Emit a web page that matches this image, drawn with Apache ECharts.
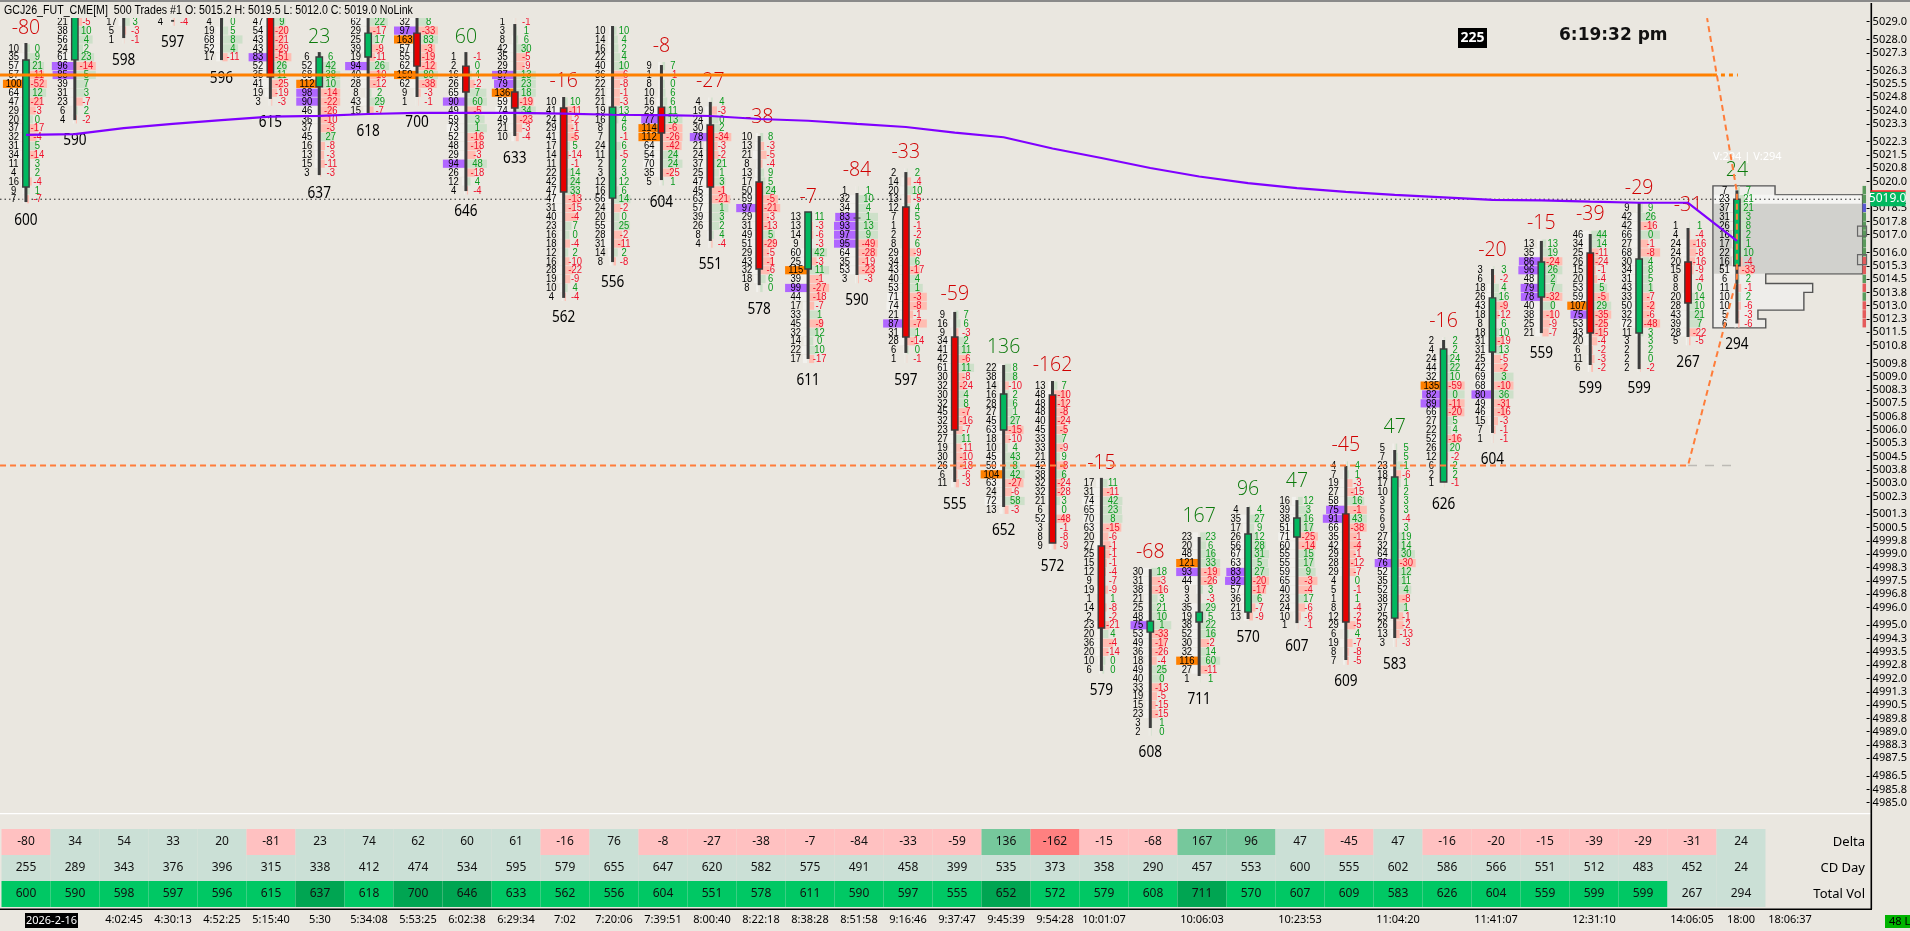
<!DOCTYPE html>
<html>
<head>
<meta charset="utf-8">
<title>GCJ26 footprint</title>
<script src="https://cdn.jsdelivr.net/npm/echarts@6/dist/echarts.min.js"></script>
<style>
html, body { margin: 0; padding: 0; background: #eae7e0; }
#chart { width: 1910px; height: 931px; }
</style>
</head>
<body>
<div id="chart"></div>
<script>
// price of the first footprint row of each bar, rows go down in steps of 0.5
var topPrices = [5027.5,5029,5029,5029,5029,5029,5027,5029,5029,5027,5029,5024.5,5028.5,5026.5,5024.5,5022.5,5018,5019.5,5020.5,5012.5,5009.5,5008.5,5003,4998,5000,5001.5,5002,5004,5005,5011,5015,5016.5,5017,5018.5,5017.5,5019.5];

var volumes = [
    [10,35,57,57,100,64,47,29,20,37,32,31,34,11,4,16,9,7],
    [21,38,56,24,61,96,85,39,31,23,6,4],
    [17,5,1],
    [4],
    [4,19,68,52,17],
    [47,54,43,43,83,52,35,41,19,3],
    [6,52,68,112,98,90,46,36,37,45,16,13,15,3],
    [62,29,25,39,19,94,40,28,8,43,15],
    [32,97,163,57,55,62,150,62,9,1],
    [1,2,16,26,65,90,49,59,73,52,48,29,94,26,12,4],
    [1,3,8,42,35,29,87,79,136,59,74,49,21,10],
    [10,41,24,29,41,17,14,11,22,42,47,47,31,40,23,16,18,12,16,28,19,10,4],
    [10,14,16,22,40,36,22,21,21,19,16,8,7,24,11,2,3,12,16,56,24,20,55,28,31,14,8],
    [9,1,8,10,16,29,77,114,112,64,54,70,35,5],
    [4,19,24,30,78,21,24,37,25,47,45,63,57,39,26,8,4],
    [10,13,21,8,13,17,50,59,97,29,31,49,51,29,43,32,18,8],
    [13,13,14,9,60,25,115,39,99,44,17,33,45,32,14,22,17],
    [1,32,34,83,93,97,95,64,35,53,3],
    [2,14,20,13,12,7,1,2,8,29,34,43,40,53,71,74,21,87,31,28,6,1],
    [9,16,9,34,41,42,61,30,32,30,32,45,32,23,27,19,30,26,6,11],
    [22,38,14,16,28,27,45,63,18,10,45,50,104,63,24,72,13],
    [13,48,48,48,40,45,33,33,21,42,38,32,32,21,6,52,3,8,9],
    [17,31,74,65,70,63,20,27,25,15,12,9,19,1,14,2,23,20,36,20,10,6],
    [30,31,38,21,25,48,75,53,49,36,18,49,40,33,19,15,23,3,2],
    [23,20,48,121,93,44,9,3,35,19,38,52,30,32,116,27,1],
    [4,35,17,26,56,67,63,83,92,57,36,21,13],
    [16,39,38,51,71,60,55,55,59,65,40,23,24,10,1],
    [4,7,19,27,58,75,91,66,35,42,29,28,29,4,5,1,8,12,29,6,19,8,7],
    [5,7,23,18,17,10,3,5,6,9,27,32,64,76,52,35,52,38,37,25,26,13,3],
    [2,4,24,44,32,135,82,89,66,27,22,52,26,12,6,2,1],
    [3,6,18,26,43,18,8,18,31,31,25,42,69,68,80,49,46,15,7,1],
    [13,35,86,96,48,79,78,40,38,25,21],
    [46,34,25,26,15,20,53,59,107,75,53,43,20,6,11,6],
    [9,42,42,66,27,68,30,34,31,43,33,50,32,72,11,3,2,2,2],
    [1,4,24,24,20,15,8,8,20,28,43,39,28,5],
    [7,23,37,31,26,16,17,22,16,51,6,11,10,10,5,6]
];

var rowDeltas = [
    [0,9,21,-11,-52,12,-21,-3,0,-17,-4,5,-14,3,2,-4,1,-7],
    [-5,10,4,2,23,-14,5,7,3,-7,2,-2],
    [3,-3,-1],
    [-4],
    [0,5,8,4,-11],
    [9,-20,-21,-29,-51,26,11,-25,-19,-3],
    [6,42,38,10,-14,-22,-26,-10,-3,27,-8,-3,-11,-3],
    [22,-17,17,-9,-11,26,-10,-12,2,29,-7],
    [8,-33,83,-3,-19,-12,80,-38,-3,-1],
    [-1,0,4,-2,7,60,-5,3,1,-16,-18,-3,48,-18,4,-4],
    [-1,1,6,30,-5,-9,13,23,18,-19,34,-23,-3,-4],
    [10,-11,-2,-1,-5,5,-14,-1,14,24,33,-13,-15,-4,7,0,-4,2,-10,-22,-9,4,-4],
    [10,4,2,4,10,-6,-8,-1,-3,13,4,6,-1,6,-5,2,3,12,6,14,-2,0,25,-2,-11,2,-8],
    [7,-1,0,6,6,11,13,-6,-26,-42,24,24,-25,1],
    [4,-3,0,2,-34,-3,-2,21,1,3,-1,-21,1,3,2,4,-4],
    [8,-3,-5,-4,9,5,24,-5,-21,-3,-13,5,-29,-5,-1,-6,6,0],
    [11,-3,-6,-3,42,-3,11,-1,-27,-18,-7,1,-9,12,0,10,-17],
    [1,10,4,1,13,9,-49,-28,-19,-23,-3],
    [2,-4,10,-5,4,5,-1,-2,6,-9,6,-17,4,1,-3,-8,-1,-7,1,-14,0,-1],
    [7,6,-3,2,11,-6,11,-8,-24,4,8,-7,-16,-7,11,-11,-10,-18,-6,-3],
    [8,8,-10,2,6,1,27,-15,-10,4,43,8,42,-27,-6,58,-3],
    [7,-10,-12,-8,-24,-5,7,-9,9,-8,6,-24,-28,3,0,-48,-1,-8,-9],
    [11,-11,42,23,8,-15,-6,-1,-1,-1,-4,-7,-9,1,-8,-2,-21,4,-4,-14,0,0],
    [18,-3,-16,3,21,10,1,-33,-17,-26,-4,25,0,-13,-5,-15,-15,1,0],
    [23,6,16,33,-19,-26,3,-3,29,5,22,16,-2,14,60,-11,1],
    [4,27,9,12,28,31,5,27,-20,-17,6,-7,-9],
    [12,3,16,17,-25,-14,15,17,9,-3,-4,17,-6,-6,-1],
    [4,1,-3,-15,16,-1,43,-38,-1,-4,-1,-12,-7,0,-1,1,-4,-2,-5,4,-7,-8,-5],
    [5,5,1,-6,1,2,3,3,-4,3,19,14,30,-30,12,11,4,-8,1,-1,-2,-13,-3],
    [2,2,24,22,10,-59,0,-11,-20,5,4,-16,20,-2,2,2,-1],
    [3,-2,4,16,-9,-12,6,10,-19,13,-5,-2,3,-10,36,-31,-16,-3,-1,-1],
    [13,19,-24,26,2,7,-32,0,-10,-9,-7],
    [44,14,-11,-24,-1,-4,5,-5,29,-35,-25,-15,-4,-2,-3,-2],
    [9,26,-16,0,-1,-8,4,8,5,1,-7,-2,-6,-48,3,3,2,0,-2],
    [1,-4,-16,-8,-16,-9,-4,0,14,10,21,7,-22,-5],
    [7,21,21,3,8,2,1,10,-4,-33,2,-1,2,-6,-3,-6]
];

// candles, null where the body is above the visible part
var opens  = [5019.69,5026.85,null,null,null,5030,5025.34,5027.01,5028.36,5026.5,5025.04,5024.14,5019.06,5024.19,5023.18,5019.97,5015.07,5017.94,5018.56,5011.24,5006,5007.97,4999.46,4994.61,4995.18,4995.74,4999.97,5001.27,4995.4,5003.07,5010.39,5013.49,5015.97,5011.46,5015.46,5015.25];
var closes = [5026.84,5030,null,null,null,5025.88,5027.01,5028.36,5026.5,5025.04,5024.14,5019.41,5024.19,5022.73,5019.69,5015.07,5018.28,5017.94,5011.24,5006,5008.03,4999.63,4994.84,4995.23,4995.74,5000.14,5001.04,4995.18,5003.35,5010.56,5013.44,5015.46,5011.46,5015.63,5013.15,5019];
var highs  = [5027.8,5030,5030,5029.1,5030,5030,5027.29,5030,5030,5027.29,5028.87,5024.76,5028.76,5026.56,5024.48,5022.56,5018.28,5019.35,5020.53,5012.65,5009.66,5008.76,5003.3,4998.16,4999.97,5001.66,5002.05,5003.97,5004.87,5011.07,5015.07,5016.65,5017.04,5018.79,5017.38,5019.5];
var lows   = [5018.84,5023.46,5028.08,5029,5026.84,5024.65,5020.36,5023.86,5024.76,5019.46,5022.56,5013.44,5015.46,5020.08,5016.65,5014.16,5010,5014.73,5010.34,5003.07,5001.66,4999.63,4992.42,4989.21,4992.14,4995.35,4995.12,4993.04,4994.28,5003.07,5005.83,5011.46,5009.66,5009.43,5011.24,5012];

// table rows, also the numbers over and under the bars
var deltaRow = [-80,34,54,33,20,-81,23,74,62,60,61,-16,76,-8,-27,-38,-7,-84,-33,-59,136,-162,-15,-68,167,96,47,-45,47,-16,-20,-15,-39,-29,-31,24];
var cdDayRow = [255,289,343,376,396,315,338,412,474,534,595,579,655,647,620,582,575,491,458,399,535,373,358,290,457,553,600,555,602,586,566,551,512,483,452,24];
var totalVolRow = [600,590,598,597,596,615,637,618,700,646,633,562,556,604,551,578,611,590,597,555,652,572,579,608,711,570,607,609,583,626,604,559,599,599,267,294];
var tableRows = ['Delta', 'CD Day', 'Total Vol'];

// purple average line, one price per bar
var vwap = [5022.62,5022.67,5023.01,5023.24,5023.46,5023.65,5023.7,5023.8,5023.86,5023.86,5023.87,5023.82,5023.76,5023.74,5023.69,5023.52,5023.42,5023.24,5023.07,5022.75,5022.49,5021.86,5021.32,5020.76,5020.28,5019.91,5019.63,5019.41,5019.24,5019.1,5018.96,5018.93,5018.86,5018.8,5018.8,5016.65];

var orangeLevel = 5026;
var lastPrice = 5019;
var swingX = [-0.53,34,35,35,34.39];
var swingPrice = [5004,5004,5014.56,5019.4,5029.2];

// profile of the running bar, [bar position, price] around its outline
var profileX = [34.51,35.78,35.78,37.57,37.57,35.59,35.59,36.55,36.55,36.37,36.37,35.43,35.43,35.59,35.59,34.51];
var profileP = [5019.75,5019.75,5019.25,5019.25,5014.8,5014.8,5014.25,5014.25,5013.75,5013.75,5012.75,5012.75,5012.25,5012.25,5011.75,5011.75];

var timeBars = [2,3,4,5,6,7,8,9,10,11,12,13,14,15,16,17,18,19,20,21,22,24,26,28,30,32,34,35,36];
var timeLabels = ['4:02:45','4:30:13','4:52:25','5:15:40','5:30','5:34:08','5:53:25','6:02:38','6:29:34','7:02','7:20:06','7:39:51','8:00:40','8:22:18','8:38:28','8:51:58','9:16:46','9:37:47','9:45:39','9:54:28','10:01:07','10:06:03','10:23:53','11:04:20','11:41:07','12:31:10','14:06:05','18:00','18:06:37'];

var priceTicks = [5029,5028,5027.25,5026.25,5025.5,5024.75,5024,5023.25,5022.25,5021.5,5020.75,5020,5018.5,5017.75,5017,5016,5015.25,5014.5,5013.75,5013,5012.25,5011.5,5010.75,5009.75,5009,5008.25,5007.5,5006.75,5006,5005.25,5004.5,5003.75,5003,5002.25,5001.25,5000.5,4999.75,4999,4998.25,4997.5,4996.75,4996,4995,4994.25,4993.5,4992.75,4992,4991.25,4990.5,4989.75,4989,4988.25,4987.5,4986.5,4985.75,4985];

var RED = '#e60000', GREEN = '#00b85f', DARK = '#3c3c3c';
var rowFont = '"Liberation Sans", sans-serif';
var uiFont = '"Noto Sans", sans-serif';
var xMin = -0.5306, xMax = 37.653;

// sx squeezes the glyphs, the reference font is narrower than the ones installed
function label(text, x, y, size, fill, font, align, weight, sx) {
    return {
        type: 'text',
        x: x, y: y, scaleX: sx || 1,
        style: {
            text: String(text),
            align: align || 'center', verticalAlign: 'middle',
            fontSize: size, fontFamily: font || rowFont, fontWeight: weight || 'normal', fill: fill
        }
    };
}

function rect(x, y, w, h, fill, stroke) {
    return {
        type: 'rect',
        shape: { x: x, y: y, width: w, height: h },
        style: { fill: fill, stroke: stroke || null, lineWidth: stroke ? 1.4 : 0 }
    };
}

// 一根足迹K线
function renderFootprint(params, api) {
    var i = api.value(0);
    var x = api.coord([i, topPrices[i]])[0];
    var vols = volumes[i], ds = rowDeltas[i];
    var rects = [], texts = [], marks = [];
    var rowY = function (r) { return api.coord([i, topPrices[i] - r * 0.5])[1]; };

    vols.forEach(function (v, r) {
        var y = rowY(r), d = ds[r];
        var lw = Math.min(22, v * 0.25), rw = Math.min(20, v * 0.3);
        var lc = v >= 100 ? '#ff8000' : (v >= 75 ? '#b066ff' : '#f2f1ed');
        rects.push(rect(x - 1 - lw, y - 4.1, lw, 8.2, lc));
        rects.push(rect(x + 1, y - 4.1, rw, 8.2, d < 0 ? '#ffbdb2' : '#cde0c9'));
        texts.push(label(v, x - 12.3, y, 11.5, '#000', rowFont, 'center', 'normal', 0.82));
        texts.push(label(d, x + 11.5, y, 11.5, d < 0 ? '#f0102a' : '#0a9a1e', rowFont, 'center', 'normal', 0.82));
    });

    var hi = api.coord([i, highs[i]])[1], lo = api.coord([i, lows[i]])[1];
    marks.push(rect(x - 1.5, hi, 3, lo - hi, DARK));
    if (opens[i] !== null) {
        var yo = api.coord([i, opens[i]])[1], yc = api.coord([i, closes[i]])[1];
        var top = Math.min(yo, yc), h = Math.abs(yo - yc);
        if (h < 1) {
            marks.push(rect(x - 3.5, top - 0.5, 7, 1, DARK));
        } else {
            marks.push(rect(x - 3.2, top, 6.4, h, closes[i] >= opens[i] ? GREEN : RED, DARK));
        }
    }

    var dv = deltaRow[i];
    texts.push(label(dv, x, rowY(0) - 20, 19.5, dv < 0 ? '#d00000' : '#0c7a0c', '"Open Sans", sans-serif', 'center', 300));
    texts.push(label(totalVolRow[i], x, rowY(vols.length - 1) + 21, 16, '#000', uiFont, 'center', 'normal', 0.85));

    return { type: 'group', children: rects.concat(marks, texts) };
}

function renderProfile(params, api) {
    var pts = profileX.map(function (px, k) { return api.coord([px, profileP[k]]); });
    var a = api.coord([34.51, 5018.75]), b = api.coord([37.57, 5014.8]);
    var c = api.coord([34.51, 5019.25]);
    return {
        type: 'group',
        children: [
            { type: 'polygon', shape: { points: pts }, style: { fill: 'rgba(240,240,238,0.7)', stroke: '#555', lineWidth: 1.4 } },
            rect(c[0] + 1, c[1], b[0] - c[0] - 2, a[1] - c[1], 'rgba(250,250,248,0.6)'),
            rect(a[0] + 1, a[1], b[0] - a[0] - 2, b[1] - a[1], 'rgba(190,190,185,0.6)'),
            label('V:294 | V:294', a[0], api.coord([34.51, 5021.38])[1], 11, '#fff', uiFont, 'left')
        ]
    };
}

// 右侧价格条和当前价标签
function renderLastPrice(params, api) {
    var children = [];
    var x = api.coord([37.57, lastPrice])[0];
    volumes[35].forEach(function (v, r) {
        var p = topPrices[35] - r * 0.5;
        var y1 = api.coord([35, p + 0.25])[1], y2 = api.coord([35, p - 0.25])[1];
        var c = rowDeltas[35][r] < 0 ? '#e45b5b' : '#5a9a5c';
        if (p === 5018.5) c = '#5a5ad2';
        children.push(rect(x, y1, 3.5, y2 - y1 - 0.5, c));
    });
    [5017.2, 5015.6].forEach(function (p) {
        var y = api.coord([35, p])[1];
        children.push({ type: 'rect', shape: { x: x - 5, y: y - 5, width: 9, height: 10 }, style: { fill: 'none', stroke: '#666', lineWidth: 1.2 } });
    });
    var e = api.coord([xMax, lastPrice]);
    children.push(rect(e[0] + 4, e[1] - 8, 35, 15, GREEN));
    children.push(rect(e[0] + 4, e[1] - 9, 35, 1.5, '#ff2020'));
    children.push(label(lastPrice.toFixed(1), e[0] + 21, e[1] - 0.5, 12, '#fff', uiFont));
    return { type: 'group', children: children };
}

function cellColor(row, v) {
    if (row === 0) {
        if (v <= -96) return '#ff8080';
        if (v >= 96) return '#76c89c';
        return v < 0 ? '#ffc1c1' : '#cbe0d6';
    }
    if (row === 1) return '#cbe0d6';
    if (v < 500) return '#cbe0d6';
    return v >= 637 ? '#00a552' : '#00c864';
}

function renderCell(params, api) {
    var col = api.value(0), row = api.value(1), v = api.value(2);
    var p = api.coord([col, row]), s = api.size([1, 1]);
    return {
        type: 'group',
        children: [
            rect(p[0] - s[0] / 2, p[1] - s[1] / 2, s[0], s[1], cellColor(row, v)),
            label(v, p[0], p[1], 12, '#111', uiFont)
        ]
    };
}

var cells = [];
[deltaRow, cdDayRow, totalVolRow].forEach(function (list, row) {
    list.forEach(function (v, col) { cells.push([col, row, v]); });
});

var chart = echarts.init(document.getElementById('chart'));

chart.setOption({
    animation: false,
    backgroundColor: '#eae7e0',
    grid: [
        { left: 0, right: 39, top: 18, height: 795 },
        { left: 0, right: 39, top: 829, height: 78 }
    ],
    xAxis: [
        { type: 'value', gridIndex: 0, min: xMin, max: xMax, show: false },
        {
            type: 'value', gridIndex: 1, min: xMin, max: xMax, position: 'bottom', offset: 2,
            splitLine: { show: false },
            axisLine: { show: false, onZero: false },
            axisTick: { customValues: timeBars.concat([0]), length: 3, lineStyle: { color: '#000' } },
            axisLabel: {
                customValues: timeBars, margin: 5, fontSize: 11, color: '#000', fontFamily: uiFont,
                formatter: function (v) { return timeLabels[timeBars.indexOf(v)] || ''; }
            }
        }
    ],
    yAxis: [
        {
            type: 'value', gridIndex: 0, position: 'right', min: 4984.42, max: 5029.21,
            splitLine: { show: false },
            axisLine: { show: false, onZero: false },
            axisTick: { customValues: priceTicks, length: 3, lineStyle: { color: '#000' } },
            axisLabel: {
                customValues: priceTicks, margin: 6, fontSize: 11, color: '#000', fontFamily: uiFont,
                formatter: function (v) { return v.toFixed(1); }
            }
        },
        {
            type: 'category', gridIndex: 1, position: 'right', inverse: true, data: tableRows,
            axisLine: { show: false, onZero: false },
            axisTick: { show: false },
            axisLabel: { inside: true, margin: 6, fontSize: 13, color: '#000', fontFamily: uiFont }
        }
    ],
    series: [
        {
            type: 'custom', xAxisIndex: 0, yAxisIndex: 0, z: 1, clip: true, silent: true,
            renderItem: renderProfile, data: [[35, lastPrice]]
        },
        {
            type: 'line', xAxisIndex: 0, yAxisIndex: 0, z: 2, symbol: 'none', silent: true,
            lineStyle: { color: '#222', width: 1, type: [1.5, 3] },
            data: [[xMin, lastPrice], [37.57, lastPrice]]
        },
        {
            type: 'custom', xAxisIndex: 0, yAxisIndex: 0, z: 3, clip: true, silent: true, progressive: 0,
            renderItem: renderFootprint,
            data: topPrices.map(function (p, i) { return [i, p]; })
        },
        {
            type: 'line', xAxisIndex: 0, yAxisIndex: 0, z: 4, symbol: 'none', silent: true,
            lineStyle: { color: '#ff8000', width: 3 },
            data: [[xMin, orangeLevel], [34.51, orangeLevel]]
        },
        {
            type: 'line', xAxisIndex: 0, yAxisIndex: 0, z: 4, symbol: 'none', silent: true,
            lineStyle: { color: '#ff8000', width: 3, type: [4, 4] },
            data: [[34.51, orangeLevel], [35.02, orangeLevel]]
        },
        {
            type: 'line', xAxisIndex: 0, yAxisIndex: 0, z: 4, symbol: 'none', silent: true,
            lineStyle: { color: '#bdbab5', width: 1.5, type: [9, 8] },
            data: [[34, swingPrice[0]], [35.02, swingPrice[0]]]
        },
        {
            type: 'line', xAxisIndex: 0, yAxisIndex: 0, z: 4, symbol: 'none', silent: true,
            lineStyle: { color: '#ff7d3a', width: 2, type: [6, 4] },
            data: swingX.map(function (x, k) { return [x, swingPrice[k]]; })
        },
        {
            type: 'line', xAxisIndex: 0, yAxisIndex: 0, z: 5, symbol: 'none', silent: true,
            lineStyle: { color: '#8000ff', width: 2.2 },
            data: vwap.map(function (p, i) { return [i, p]; })
        },
        {
            type: 'custom', xAxisIndex: 0, yAxisIndex: 0, z: 6, clip: false, silent: true,
            renderItem: renderLastPrice, data: [[35, lastPrice]]
        },
        {
            type: 'custom', xAxisIndex: 1, yAxisIndex: 1, z: 3, silent: true,
            renderItem: renderCell, data: cells
        }
    ],
    graphic: [
        { type: 'rect', shape: { x: 0, y: 0, width: 1910, height: 2 }, style: { fill: '#8a8a8a' } },
        { type: 'text', x: 4, y: 11, scaleX: 0.85, style: { text: 'GCJ26_FUT_CME[M]  500 Trades #1 O: 5015.2 H: 5019.5 L: 5012.0 C: 5019.0 NoLink', align: 'left', verticalAlign: 'middle', fontSize: 12.5, fill: '#000', fontFamily: rowFont } },
        { type: 'rect', shape: { x: 0, y: 813, width: 1871, height: 1.3 }, style: { fill: '#fff' } },
        { type: 'rect', shape: { x: 1870.5, y: 3, width: 1.6, height: 906 }, style: { fill: '#000' } },
        { type: 'rect', shape: { x: 0, y: 908.5, width: 1872, height: 1.6 }, style: { fill: '#000' } },
        { type: 'rect', shape: { x: 1458, y: 28, width: 29, height: 20 }, style: { fill: '#000' } },
        { type: 'text', x: 1472.5, y: 38, style: { text: '225', align: 'center', verticalAlign: 'middle', fontSize: 14, fontWeight: 'bold', fill: '#fff', fontFamily: uiFont } },
        { type: 'text', x: 1559, y: 36, style: { text: '6:19:32 pm', align: 'left', verticalAlign: 'middle', fontSize: 17, fontWeight: 'bold', fill: '#111', fontFamily: '"DejaVu Sans", sans-serif' } },
        { type: 'rect', shape: { x: 25, y: 913, width: 53, height: 15 }, style: { fill: '#000' } },
        { type: 'text', x: 51.5, y: 920.5, style: { text: '2026-2-16', align: 'center', verticalAlign: 'middle', fontSize: 11, fill: '#fff', fontFamily: uiFont } },
        { type: 'rect', shape: { x: 1885, y: 915, width: 25, height: 13 }, style: { fill: '#00b400' } },
        { type: 'text', x: 1889, y: 921.5, style: { text: '48 L', align: 'left', verticalAlign: 'middle', fontSize: 11, fill: '#000', fontFamily: uiFont } }
    ]
});
</script>
</body>
</html>
